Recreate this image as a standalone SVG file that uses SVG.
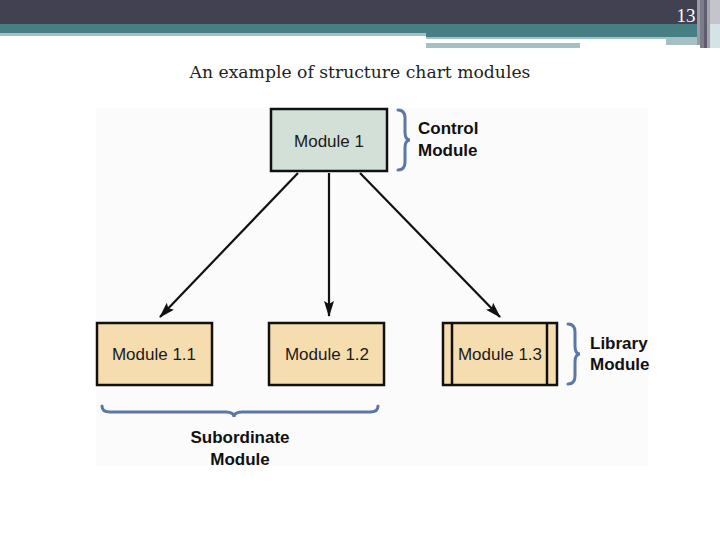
<svg xmlns="http://www.w3.org/2000/svg" width="720" height="540" viewBox="0 0 720 540">
<defs>
<style>
.box{stroke:#111;stroke-width:2.5}
.sub{fill:#f5ddb0}
.lbl{font-family:"Liberation Sans",Arial,sans-serif;font-size:17px;fill:#1a1a1a;text-anchor:middle}
.bold{font-family:"Liberation Sans",Arial,sans-serif;font-size:17px;font-weight:bold;fill:#111}
.brace{fill:none;stroke:#5a77a6;stroke-width:3;stroke-linecap:round}
.conn{stroke:#111;stroke-width:2.2;fill:none}
</style>
<marker id="ah" viewBox="0 0 16 10" refX="15" refY="5" markerWidth="16" markerHeight="10" markerUnits="userSpaceOnUse" orient="auto">
<path d="M0,0 L16,5 L0,10 L3,5 Z" fill="#111"/>
</marker>
</defs>
<rect width="720" height="540" fill="#fff"/>
<g id="header">
<rect x="0" y="0" width="720" height="24" fill="#414152"/>
<rect x="0" y="24" width="720" height="9" fill="#457f84"/>
<rect x="0" y="33" width="426" height="3" fill="#a5c0c3"/>
<rect x="426" y="33" width="274" height="4" fill="#457f84"/>
<rect x="426" y="37" width="240" height="2" fill="#a5c0c3"/>
<rect x="426" y="43" width="154" height="5" fill="#a5c0c3"/>
<rect x="697" y="0" width="3" height="45" fill="#9a9aa6"/>
<rect x="700" y="0" width="4" height="48" fill="#7d7d8a"/>
<rect x="704" y="0" width="3" height="48" fill="#5e5e6e"/>
<rect x="707" y="0" width="3" height="48" fill="#a3a3ad"/>
<rect x="710" y="0" width="10" height="24" fill="#c4c4cc"/>
<rect x="710" y="24" width="10" height="24" fill="#d4e3e4"/>
<rect x="666" y="37" width="31" height="8" fill="#a5c0c3"/>
<text x="686" y="22" font-family="Liberation Serif,serif" font-size="19" fill="#fff" text-anchor="middle">13</text>
</g>
<text x="360" y="78" font-family="'DejaVu Serif',serif" font-size="17.2" fill="#222" text-anchor="middle">An example of structure chart modules</text>
<rect x="96" y="108" width="552" height="358" fill="#fbfbfb"/>
<g id="connectors">
<line class="conn" x1="298" y1="173" x2="160" y2="317" marker-end="url(#ah)"/>
<line class="conn" x1="329" y1="173" x2="329" y2="316" marker-end="url(#ah)"/>
<line class="conn" x1="360" y1="173" x2="500" y2="317" marker-end="url(#ah)"/>
</g>
<g id="module1">
<rect class="box" x="271" y="109" width="116" height="62" fill="#d2e0d7"/>
<text class="lbl" x="329" y="147">Module 1</text>
</g>
<g id="module11">
<rect class="box sub" x="97" y="323" width="115" height="62"/>
<text class="lbl" x="154" y="360">Module 1.1</text>
</g>
<g id="module12">
<rect class="box sub" x="269" y="323" width="115" height="62"/>
<text class="lbl" x="327" y="360">Module 1.2</text>
</g>
<g id="module13">
<rect class="box sub" x="443" y="323" width="114" height="62"/>
<line class="box" x1="452" y1="323" x2="452" y2="385"/>
<line class="box" x1="547" y1="323" x2="547" y2="385"/>
<text class="lbl" x="500" y="360">Module 1.3</text>
</g>
<g id="control-label">
<path class="brace" d="M398,110 Q405,110 405,118 L405,132 Q405,140 410,140 Q405,140 405,148 L405,162 Q405,170 398,170"/>
<text class="bold" x="418" y="134">Control</text>
<text class="bold" x="418" y="156">Module</text>
</g>
<g id="library-label">
<path class="brace" d="M568,324 Q575,324 575,332 L575,346 Q575,354 580,354 Q575,354 575,362 L575,376 Q575,384 568,384"/>
<text class="bold" x="590" y="349">Library</text>
<text class="bold" x="590" y="370">Module</text>
</g>
<g id="subordinate-label">
<path class="brace" d="M102,406 Q102,412 110,412 L226,412 Q234,412 234,417 Q234,412 242,412 L370,412 Q378,412 378,406"/>
<text class="bold" x="240" y="443" text-anchor="middle">Subordinate</text>
<text class="bold" x="240" y="465" text-anchor="middle">Module</text>
</g>
</svg>
